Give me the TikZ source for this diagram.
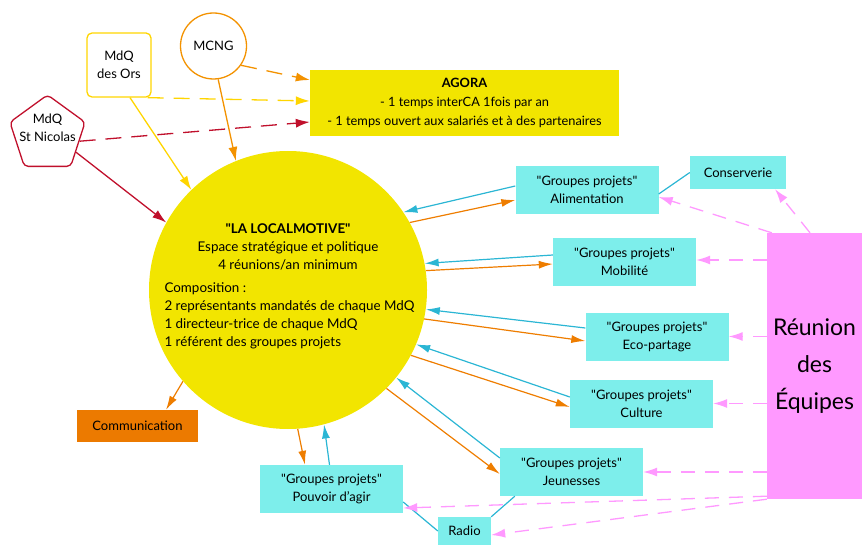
\documentclass[tikz,border=0pt]{standalone}
\usepackage{fontspec}
\setmainfont{Lato}[Ligatures=TeXOff]
\usetikzlibrary{arrows.meta}
\usetikzlibrary{scopes}
\usetikzlibrary{shapes.geometric}

\definecolor{boxcyan}{RGB}{125,238,235}
\definecolor{linecyan}{RGB}{43,182,212}
\definecolor{lineorange}{RGB}{238,125,0}
\definecolor{comorange}{RGB}{236,122,0}
\definecolor{mcngorange}{RGB}{243,146,0}
\definecolor{locoyellow}{RGB}{242,229,0}
\definecolor{orsyellow}{RGB}{255,213,0}
\definecolor{nicred}{RGB}{192,16,44}
\definecolor{reunpink}{RGB}{255,153,255}

\newcommand{\gp}{"Groupes projets"}

\tikzset{
  txt/.style={font=\fontsize{13}{18}\selectfont, align=center},
  gpbox/.style={txt, fill=boxcyan, inner sep=0pt, minimum width=143pt, minimum height=48pt},
  pinkdash/.style={draw=reunpink, line width=1.3pt, dash pattern=on 14pt off 10pt}
}

\begin{document}
\begin{tikzpicture}[x=1pt,y=-1pt]
\useasboundingbox (0,0) rectangle (864,545);

% espace central
\node[circle, fill=locoyellow, minimum size=278pt, inner sep=0pt] (loco) at (288,290) {};
\node[txt, font=\fontsize{13.4}{18}\selectfont] (locohead) at (288,247)
  {{\bfseries "LA LOCALMOTIVE"}\\Espace stratégique et politique\\4 réunions/an minimum};
\node[txt, font=\fontsize{13.4}{18}\selectfont, align=left, anchor=west] (lococomp) at (161,316)
  {Composition :\\2 représentants mandatés de chaque MdQ\\1 directeur-trice de chaque MdQ\\1 référent des groupes projets};

% maisons de quartier
\begin{scope}[every node/.style={txt, inner sep=0pt}]
    \node[regular polygon, regular polygon sides=5, draw=nicred, line width=1.3pt,
          rounded corners=4pt, minimum size=79pt] (nic) at (47.5,134.4) {};
    \node (nictext) at (47.5,128) {MdQ\\St Nicolas};
    \node[draw=orsyellow, line width=1.3pt, rounded corners=5pt,
          minimum width=64pt, minimum height=64pt] (ors) at (119,65) {MdQ\\des Ors};
    \node[circle, draw=mcngorange, line width=1.3pt, minimum size=66pt] (mcng) at (213.5,46) {MCNG};
    \node[fill=locoyellow, minimum width=309pt, minimum height=66pt,
          font=\fontsize{12.8}{19}\selectfont] (agora) at (464.5,103)
      {{\bfseries AGORA}\\- 1 temps interCA 1fois par an\\- 1 temps ouvert aux salariés et à des partenaires};
    \node[fill=comorange, minimum width=121pt, minimum height=32pt] (com) at (137.5,426) {Communication};
    \node[fill=reunpink, minimum width=95pt, minimum height=266pt,
          font=\fontsize{23}{37}\selectfont] (reun) at (814.5,366) {Réunion\\des\\Équipes};
\end{scope}

% groupes projets
\begin{scope}[every node/.style={gpbox}]
    \node (alim) at (587,190) {\gp\\Alimentation};
    \node (mob) at (624.5,262) {\gp\\Mobilité};
    \node (eco) at (657,336.5) {\gp\\Eco-partage};
    \node (cult) at (641.5,403.5) {\gp\\Culture};
    \node (jeun) at (571.5,472) {\gp\\Jeunesses};
    \node (pouv) at (331.5,489) {\gp\\Pouvoir d’agir};
    \node[minimum width=96pt, minimum height=33pt] (cons) at (738,172.5) {Conserverie};
    \node[minimum width=53pt, minimum height=28pt] (radio) at (464.5,531) {Radio};
\end{scope}

\begin{scope}[>={Latex[length=14pt,width=8pt]},
              every edge/.style={draw=linecyan,line width=1.2pt}]
    \path [->] ([yshift=4pt]alim.west) edge (loco.34);
    \path [->] ([yshift=7pt]mob.west) edge (loco.11);
    \path [->] ([yshift=8.5pt]eco.west) edge (loco.-8);
    \path [->] ([yshift=6.5pt]cult.west) edge (loco.-23.5);
    \path [->] ([yshift=14pt]jeun.west) edge (loco.-39);
    \path [->] ([xshift=-2pt]pouv.north) edge (loco.-75);
    \path (cons.west) edge ([yshift=-4pt]alim.east);
    \path ([xshift=15pt]jeun.south west) edge (radio.north east);
    \path ([yshift=-13pt]pouv.east) edge (radio.west);
\end{scope}

\begin{scope}[>={Latex[length=14pt,width=8pt]},
              every edge/.style={draw=lineorange,line width=1.2pt}]
    \path [->] (loco.29) edge ([yshift=-10pt]alim.west);
    \path [->] (loco.8) edge ([yshift=-2pt]mob.west);
    \path [->] (loco.-12.5) edge ([yshift=-4.5pt]eco.west);
    \path [->] (loco.-28.5) edge ([yshift=-3.5pt]cult.west);
    \path [->] (loco.-45) edge ([yshift=-2pt]jeun.west);
    \path [->] (loco.-86) edge ([xshift=-26.5pt]pouv.north);
    \path [->] (loco.-139) edge ([xshift=28.5pt]com.north);
\end{scope}

\begin{scope}[>={Latex[length=14pt,width=9pt]},
              every edge/.style={draw,line width=1.3pt}]
    \path [->] (mcng.-82) edge[mcngorange] (loco.112);
    \path [->] ([xshift=11pt]ors.south) edge[orsyellow] (loco.134);
    \path [->] (nic.-32) edge[nicred] (loco.151);
    \path [->] (mcng.-35) edge[mcngorange, dash pattern=on 16pt off 10pt] ([yshift=23pt]agora.west);
    \path [->] ([xshift=-4pt]ors.south east) edge[orsyellow, dash pattern=on 16pt off 10pt] ([yshift=2pt]agora.west);
    \path [->] (nic.-12) edge[nicred, dash pattern=on 16pt off 10pt] ([yshift=-19pt]agora.west);
\end{scope}

\begin{scope}[>={Latex[length=14pt,width=9pt]}, every edge/.style={pinkdash}]
    \path [->] ([xshift=-4.5pt]reun.north) edge ([xshift=37pt]cons.south);
    \path [->] ([xshift=5pt]reun.north west) edge ([yshift=-7pt]alim.east);
    \path [->] ([yshift=2pt]reun.west |- mob.east) edge ([yshift=2pt]mob.east);
    \path [->] (reun.west |- eco.east) edge (eco.east);
    \path [->] (reun.west |- cult.east) edge (cult.east);
    \path [->] (reun.west |- jeun.east) edge (jeun.east);
    \path [->] ([yshift=3pt]reun.south west) edge ([yshift=-19pt]pouv.east);
    \path [->] (reun.south west) edge ([yshift=-4pt]radio.east);
\end{scope}
\end{tikzpicture}
\end{document}
